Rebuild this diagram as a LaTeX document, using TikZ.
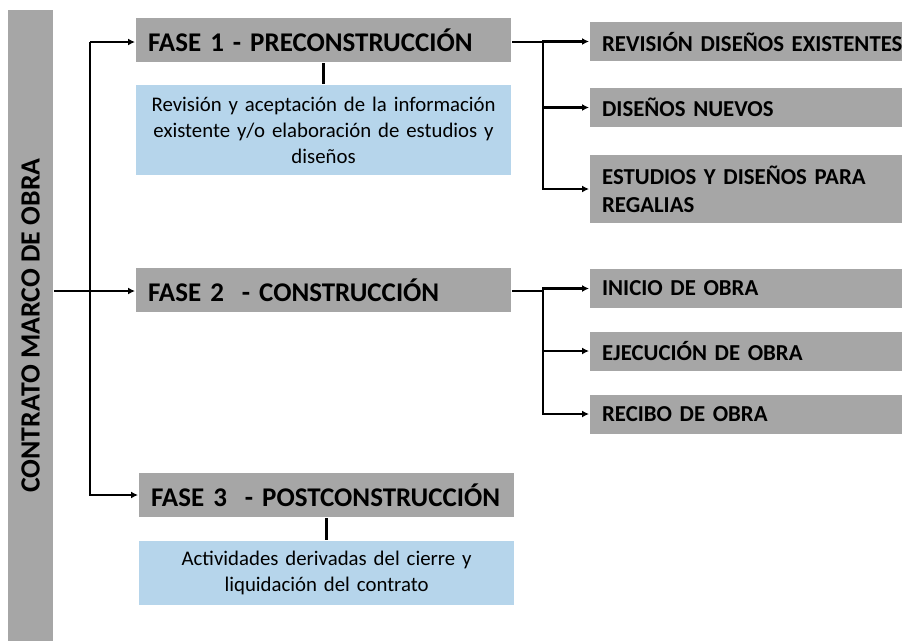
\documentclass[tikz,border=0pt]{standalone}
\usepackage{fontspec}
\setmainfont{Carlito}
\usepackage{xcolor}
\usetikzlibrary{positioning,arrows.meta}

\definecolor{gris}{HTML}{A6A6A6}
\definecolor{celeste}{HTML}{B6D5EB}

\tikzset{
  fase/.style={fill=gris, rectangle, anchor=west, text width=351pt, inner xsep=12pt, inner ysep=0pt,
    minimum height=44pt, align=left, font=\fontsize{27}{32}\selectfont\bfseries},
  sub/.style={fill=gris, rectangle, anchor=west, text width=340pt, inner xsep=12pt, inner ysep=0pt,
    minimum height=39pt, align=left, font=\fontsize{22.8}{28}\selectfont\bfseries},
  nota/.style={fill=celeste, rectangle, text width=351pt, inner xsep=12pt, inner ysep=0pt,
    align=center, font=\fontsize{20.8}{26}\selectfont},
}

\begin{document}
\begin{tikzpicture}[x=1pt, y=-1pt, line width=2.2pt, >={Latex[length=7pt,width=7pt]}]
    \useasboundingbox (0,0) rectangle (902,641);

    \node (contrato) [fill=gris, rotate=90, minimum width=631pt, minimum height=45pt, inner sep=0pt,
        font=\fontsize{27.8}{32}\selectfont\bfseries] at (30.5,325.5) {CONTRATO MARCO DE OBRA};

    % fases
    \node (fase1) [fase] at (135,40) {FASE 1 - PRECONSTRUCCIÓN};
    \node (info1) [nota, minimum height=90pt, below=21pt of fase1] {Revisión y aceptación de la información\\existente y/o elaboración de estudios y\\diseños};
    \node (fase2) [fase] at (135,290) {FASE 2 \ - CONSTRUCCIÓN};
    \node (fase3) [fase] at (138,495) {FASE 3 \ - POSTCONSTRUCCIÓN};
    \node (info2) [nota, minimum height=64pt, below=22pt of fase3] {Actividades derivadas del cierre y\\liquidación del contrato};

    % subfases
    \node (rev) [sub] at (589,41.5) {REVISIÓN DISEÑOS EXISTENTES};
    \node (nue) [sub] at (589,107.5) {DISEÑOS NUEVOS};
    \node (est) [sub, minimum height=68pt] at (589,189) {ESTUDIOS Y DISEÑOS PARA\\REGALIAS};
    \node (ini) [sub] at (589,288.5) {INICIO DE OBRA};
    \node (eje) [sub] at (589,351) {EJECUCIÓN DE OBRA};
    \node (rec) [sub] at (589,414) {RECIBO DE OBRA};

    \coordinate (tr) at (90,42);
    \coordinate (b1) at (543,42);
    \coordinate (b2) at (543,291);

    \draw[->] (contrato.south |- b2) -- (fase2.west |- b2);
    \draw[->] (tr) -- (fase1.west |- tr);
    \draw[->] (tr) |- (fase3.west);

    \draw[line width=3.2pt] (fase1) -- (info1);
    \draw[line width=3.2pt] (fase3) -- (info2);

    \draw (fase1.east |- b1) -- (b1);
    \foreach \s in {rev,nue,est}
        \draw[->] (b1) |- (\s.west);
    \draw (fase2.east |- b2) -- (b2);
    \foreach \s in {ini,eje,rec}
        \draw[->] (b2) |- (\s.west);
\end{tikzpicture}
\end{document}
